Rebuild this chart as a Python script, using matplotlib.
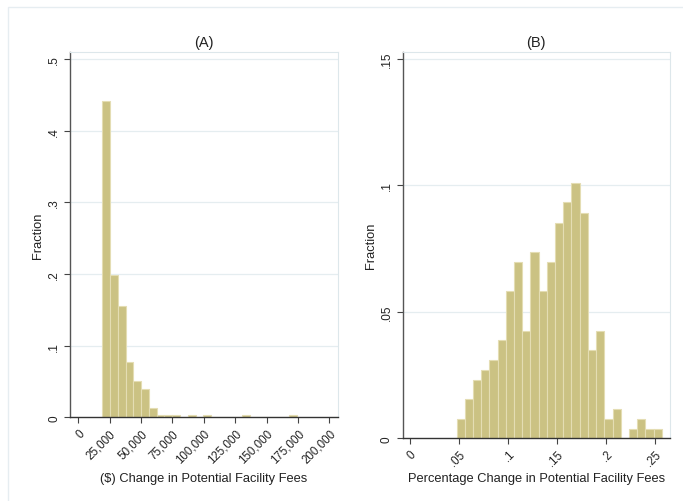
import matplotlib
matplotlib.use("Agg")
import matplotlib.pyplot as plt
import numpy as np
from matplotlib.patches import Rectangle

plt.rcParams['font.family'] = ['Liberation Sans', 'DejaVu Sans']

# panel A: dollar change, 25 equal bins
fee_bin_start = 19100
fee_bin_width = 6190
fee_frac = [0.442, 0.198, 0.156, 0.077, 0.050, 0.039, 0.0126, 0.0037, 0.0037, 0.0037,
            0.0, 0.0037, 0.0, 0.0037, 0.0, 0.0, 0.0, 0.0, 0.0037, 0.0,
            0.0, 0.0, 0.0, 0.0, 0.0037]
fee_xticks = [0, 25000, 50000, 75000, 100000, 125000, 150000, 175000, 200000]
fee_xlabels = ['0', '25,000', '50,000', '75,000', '100,000', '125,000', '150,000', '175,000', '200,000']
fee_yticks = [0, 0.1, 0.2, 0.3, 0.4, 0.5]
fee_ylabels = ['0', '.1', '.2', '.3', '.4', '.5']

# panel B: percentage change, 25 equal bins
pct_bin_start = 0.0476
pct_bin_width = 0.00837
pct_frac = [0.0077, 0.0156, 0.0231, 0.0271, 0.0311, 0.039, 0.0583, 0.0698, 0.0426, 0.0738,
            0.0583, 0.0698, 0.0853, 0.0934, 0.1009, 0.0893, 0.0351, 0.0426, 0.0077, 0.0116,
            0.0, 0.0037, 0.0077, 0.0037, 0.0037]
pct_xticks = [0, 0.05, 0.1, 0.15, 0.2, 0.25]
pct_xlabels = ['0', '.05', '.1', '.15', '.2', '.25']
pct_yticks = [0, 0.05, 0.1, 0.15]
pct_ylabels = ['0', '.05', '.1', '.15']

BAR = '#cbc283'
BAR_EDGE = '#e4ddb3'
GRID = '#e5edf0'
FAINT = '#dde7eb'
TXT = '#222222'

fig = plt.figure(figsize=(6.83, 5.02), dpi=100)
fig.patches.append(Rectangle((8 / 683, -0.1), 1.2, 1 - 8 / 502 + 0.1, transform=fig.transFigure,
                             fill=False, edgecolor='#e6edf1', linewidth=1.0))

axA = fig.add_axes([70 / 683, 83.7 / 502, 268 / 683, 365.3 / 502])
axB = fig.add_axes([402.7 / 683, 62.7 / 502, 267.3 / 683, 386.3 / 502])


def draw_hist(ax, start, width, frac, xlim, ylim, xticks, xlabels, yticks, ylabels, title, xlabel,
              xpad):
    edges = start + width * np.arange(len(frac))
    ax.bar(edges, frac, width=width, align='edge', color=BAR, edgecolor=BAR_EDGE,
           linewidth=0.8, zorder=2)
    ax.set_xlim(*xlim)
    ax.set_ylim(*ylim)
    ax.set_yticks(yticks)
    ax.set_yticklabels(ylabels, rotation=90, va='center', fontsize=8.5, color=TXT)
    ax.set_xticks(xticks)
    ax.set_xticklabels(xlabels, rotation=45, ha='right', va='top', rotation_mode='anchor',
                       fontsize=8.3, color=TXT)
    ax.tick_params(axis='both', direction='out', length=4, width=0.8, color='#444444', pad=3)
    for y in yticks[1:]:
        ax.axhline(y, color=GRID, linewidth=0.9, zorder=1)
    ax.spines['left'].set_color('#555555')
    ax.spines['bottom'].set_color('#333333')
    ax.spines['left'].set_linewidth(1.0)
    ax.spines['bottom'].set_linewidth(1.0)
    ax.spines['top'].set_color(FAINT)
    ax.spines['right'].set_color(FAINT)
    ax.set_title(title, fontsize=10.5, color=TXT, pad=4)
    ax.set_xlabel(xlabel, fontsize=9.3, color=TXT, labelpad=xpad)
    ax.set_ylabel('Fraction', fontsize=9.3, color=TXT, labelpad=3)


draw_hist(axA, fee_bin_start, fee_bin_width, fee_frac, (-6600, 206770), (0, 0.5098),
          fee_xticks, fee_xlabels, fee_yticks, fee_ylabels, '(A)',
          '($) Change in Potential Facility Fees', 5)
draw_hist(axB, pct_bin_start, pct_bin_width, pct_frac, (-0.00745, 0.2653), (0, 0.1528),
          pct_xticks, pct_xlabels, pct_yticks, pct_ylabels, '(B)',
          'Percentage Change in Potential Facility Fees', 3)

fig.savefig('out.png', dpi=100)
